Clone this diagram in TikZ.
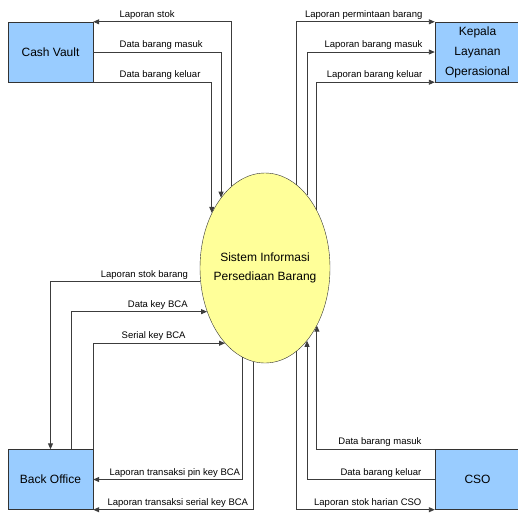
\documentclass[tikz,border=0pt]{standalone}
\usepackage{fontspec}
\setmainfont{Liberation Sans}
\usetikzlibrary{positioning, arrows.meta, shapes, calc}
\definecolor{BoxBlue}{RGB}{153,204,255}
\definecolor{ProcYellow}{RGB}{255,255,153}
\definecolor{FlowGray}{RGB}{60,60,60}

\begin{document}
\begin{tikzpicture}[x=1pt, y=-1pt,
    entity/.style={rectangle, draw=black!80, fill=BoxBlue, minimum width=85pt, minimum height=60pt, align=center, font=\fontsize{12}{20}\selectfont},
    proc/.style={ellipse, draw=black!80, fill=ProcYellow, minimum width=130pt, minimum height=190pt, inner sep=0pt},
    flow/.style={draw=FlowGray, line width=0.9pt, -{Triangle[length=6pt, width=5pt]}},
    lbl/.style={font=\fontsize{9.5}{11}\selectfont, inner sep=2pt}]
    \useasboundingbox (0,0) rectangle (518,512);
    % Proceso
    \node[proc, label={[align=center, font=\fontsize{12}{19}\selectfont]center:Sistem Informasi\\Persediaan Barang}] (SIS) at (265,268) {};
    % Entidades
    \node[entity] (CV) at (50.5,52) {Cash Vault};
    \node[entity] (KL) at (477.5,52) {Kepala\\Layanan\\Operasional};
    \node[entity] (BO) at (50.5,479.5) {Back Office};
    \node[entity] (CSO) at (477.5,479.5) {CSO};

    % Flujos Cash Vault
    \draw[flow] (SIS.112) |- (CV.north east) node[lbl, above right, xshift=24pt] {Laporan stok};
    \draw[flow] (CV.east) node[lbl, above right, xshift=24pt] {Data barang masuk} -| (SIS.122);
    \draw[flow] (CV.south east) node[lbl, above right, xshift=24pt] {Data barang keluar} -| (SIS.134);

    % Flujos Kepala Layanan Operasional
    \draw[flow] (SIS.69) |- (KL.north west) node[lbl, above left, xshift=-10pt] {Laporan permintaan barang};
    \draw[flow] (SIS.60) |- (KL.west) node[lbl, above left, xshift=-10pt] {Laporan barang masuk};
    \draw[flow] (SIS.48) |- (KL.south west) node[lbl, above left, xshift=-10pt] {Laporan barang keluar};

    % Flujos Back Office
    \draw[flow] (SIS.192) node[lbl, above left, xshift=-10pt] {Laporan stok barang} -| (BO.north);
    \draw[flow] ($(BO.north)!0.5!(BO.north east)$) |- (SIS.217) node[lbl, above left, xshift=-17pt] {Data key BCA};
    \draw[flow] (BO.north east) |- (SIS.242) node[lbl, above left, xshift=-37pt] {Serial key BCA};
    \draw[flow] (SIS.256) |- (BO.east) node[lbl, above right, xshift=14pt] {Laporan transaksi pin key BCA};
    \draw[flow] (SIS.263) |- (BO.south east) node[lbl, above right, xshift=12pt] {Laporan transaksi serial key BCA};

    % Flujos CSO
    \draw[flow] (CSO.north west) node[lbl, above left, xshift=-11pt] {Data barang masuk} -| (SIS.312);
    \draw[flow] (CSO.west) node[lbl, above left, xshift=-11pt] {Data barang keluar} -| (SIS.300);
    \draw[flow] (SIS.291) |- (CSO.south west) node[lbl, above left, xshift=-11pt] {Laporan stok harian CSO};
\end{tikzpicture}
\end{document}
